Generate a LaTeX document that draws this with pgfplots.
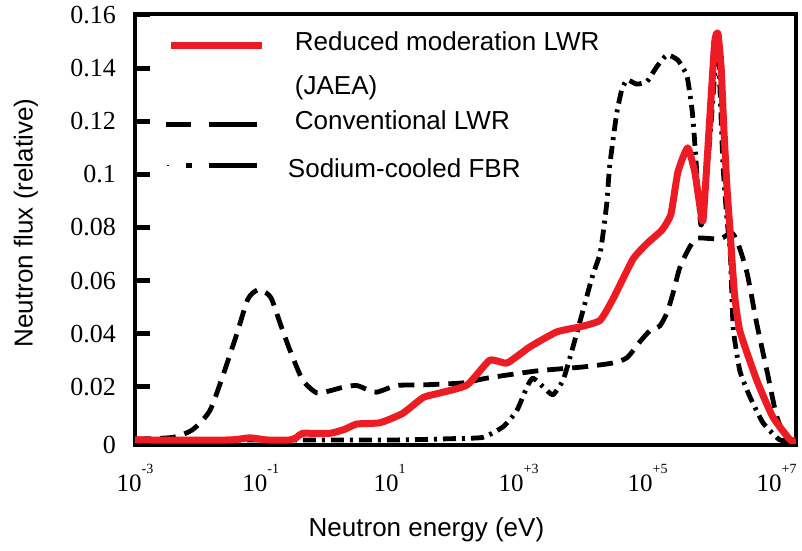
\documentclass[border=0pt]{standalone}
\usepackage{fontspec}
\setmainfont{Liberation Serif}
\newfontfamily\arial{Liberation Sans}
\usepackage{pgfplots}
\pgfplotsset{compat=1.18}
\definecolor{rmred}{RGB}{237,28,36}
\newcommand{\xsup}[1]{\raisebox{9pt}{\fontsize{7}{8}\selectfont #1}}
\newcommand{\lent}[2]{\raisebox{0pt}[#1][3pt]{#2}}
\begin{document}
\begin{tikzpicture}
\begin{axis}[
  scale only axis,
  width=330.5pt, height=215.5pt,
  xmin=-2.95, xmax=7.3,
  ymin=-0.0019, ymax=0.1604,
  axis line style={line width=2.2pt},
  xtick={-2.95,-1,1,3,5,7},
  xticklabels={10\xsup{-3},10\xsup{-1},10\xsup{1},10\xsup{+3},10\xsup{+5},10\xsup{+7}},
  xtick style={draw=none},
  xticklabel style={font=\fontsize{12.5}{14}\selectfont, yshift=-6pt},
  ytick={-0.0019,0.02,0.04,0.06,0.08,0.1,0.12,0.14,0.16},
  yticklabels={0,0.02,0.04,0.06,0.08,0.1,0.12,0.14,0.16},
  yticklabel style={font=\fontsize{13}{15}\selectfont, xshift=-6pt},
  ytick pos=left,
  tick align=inside,
  major tick length=7.5pt,
  ytick style={line width=2.4pt, black},
  xlabel={Neutron energy (eV)},
  ylabel={Neutron flux (relative)},
  label style={font=\arial\fontsize{13}{15}\selectfont},
  xlabel style={at={(rel axis cs:0.441,-0.197)}, anchor=center},
  ylabel style={at={(rel axis cs:-0.165,0.515)}, anchor=center},
  legend cell align=left,
  legend style={draw=none, fill=none, inner sep=0pt, outer sep=0pt,
    at={(rel axis cs:0.044,0.961)}, anchor=north west,
    font=\arial\fontsize{13}{15}\selectfont,
    row sep=6.25pt, column sep=14.5pt,
    nodes={inner sep=0pt, outer sep=0pt}},
]
% Conventional LWR
\addplot[forget plot, black, line width=2.4pt, dash pattern=on 8pt off 4.5pt, line join=round, smooth, tension=0.4] coordinates {
(-2.95,0.0003) (-2.36,0.001) (-2.05,0.004) (-1.79,0.011) (-1.59,0.024) (-1.37,0.040) (-1.20,0.053) (-1.05,0.0565) (-0.92,0.0555) (-0.83,0.053) (-0.70,0.044) (-0.55,0.034) (-0.35,0.0226) (-0.13,0.0177) (0.07,0.0185) (0.30,0.020) (0.49,0.0205) (0.65,0.019) (0.80,0.018) (1.11,0.0205) (1.47,0.0207) (2.14,0.0215) (2.51,0.0233) (3.28,0.026) (4.00,0.0275) (4.46,0.029) (4.68,0.031) (4.88,0.037) (5.03,0.041) (5.19,0.043) (5.30,0.048) (5.39,0.055) (5.50,0.065) (5.66,0.073) (5.78,0.076) (6.12,0.0757) (6.30,0.078) (6.40,0.074) (6.54,0.063) (6.69,0.044) (6.85,0.026) (7.00,0.009) (7.16,0.0) (7.3,0)
};
% Sodium-cooled FBR
\addplot[forget plot, black, line width=2.4pt, dash pattern=on 6.5pt off 3pt on 1.5pt off 3pt, line join=round, smooth, tension=0.3] coordinates {
(-2.95,0) (1.0,0) (1.98,0.0005) (2.45,0.001) (2.76,0.005) (2.97,0.011) (3.13,0.020) (3.22,0.0233) (3.38,0.020) (3.53,0.017) (3.69,0.0226) (3.83,0.034) (4.00,0.049) (4.14,0.0614) (4.26,0.070) (4.31,0.078) (4.37,0.090) (4.41,0.103) (4.52,0.123) (4.60,0.132) (4.68,0.1356) (4.83,0.134) (4.99,0.135) (5.14,0.1405) (5.30,0.145) (5.47,0.143) (5.61,0.137) (5.69,0.124) (5.73,0.112) (5.81,0.084) (5.84,0.082) (5.97,0.115) (6.09,0.153) (6.12,0.133) (6.17,0.103) (6.23,0.083) (6.28,0.071) (6.31,0.052) (6.33,0.041) (6.43,0.026) (6.59,0.016) (6.79,0.0064) (7.05,0) (7.3,0)
};
% Reduced moderation LWR (JAEA)
\addplot[forget plot, rmred, line width=3.5pt, line join=round, smooth, tension=0.3] coordinates {
(-2.95,0.0) (-1.5,0.0) (-1.17,0.0008) (-0.9,0.0) (-0.55,0.0) (-0.44,0.001) (-0.35,0.0025) (0.07,0.0025) (0.30,0.004) (0.49,0.006) (0.85,0.0065) (1.2,0.010) (1.52,0.016) (1.78,0.0177) (2.2,0.0207) (2.55,0.030) (2.82,0.029) (3.17,0.035) (3.59,0.0407) (3.95,0.0426) (4.26,0.045) (4.46,0.053) (4.77,0.068) (4.99,0.074) (5.22,0.079) (5.36,0.085) (5.47,0.101) (5.62,0.110) (5.73,0.101) (5.81,0.088) (5.86,0.083) (5.96,0.120) (6.04,0.150) (6.09,0.153) (6.14,0.140) (6.18,0.118) (6.23,0.095) (6.28,0.078) (6.31,0.067) (6.35,0.054) (6.43,0.041) (6.69,0.0226) (6.94,0.0087) (7.21,0.0) (7.3,0)
};
\addlegendimage{rmred, line width=3.5pt, legend image code/.code={\draw (0pt,-1.5pt) -- (45.5pt,-1.5pt);}}
\addlegendentry{\lent{10pt}{Reduced moderation LWR}}
\addlegendimage{empty legend}
\addlegendentry{\lent{14pt}{(JAEA)}}
\addlegendimage{black, line width=2.4pt, legend image code/.code={\draw (-2.5pt,-1.5pt) -- (10pt,-1.5pt); \draw (19pt,-1.5pt) -- (43pt,-1.5pt);}}
\addlegendentry{\lent{10pt}{Conventional LWR}}
\addlegendimage{black, line width=2.4pt, legend image code/.code={\draw[line width=0.6pt] (-2pt,-1.5pt) -- (-1.4pt,-1.5pt); \draw (7.5pt,-1.5pt) -- (10.5pt,-1.5pt); \draw (19pt,-1.5pt) -- (43pt,-1.5pt);}}
\addlegendentry{\lent{16pt}{\hspace*{-3.5pt}Sodium-cooled FBR}}
\coordinate (bbsw) at (rel axis cs:-0.2042,-0.2436);
\coordinate (bbne) at (rel axis cs:1.0091,1.0325);
\end{axis}
\pgfresetboundingbox
\useasboundingbox (bbsw) rectangle (bbne);
\end{tikzpicture}
\end{document}
